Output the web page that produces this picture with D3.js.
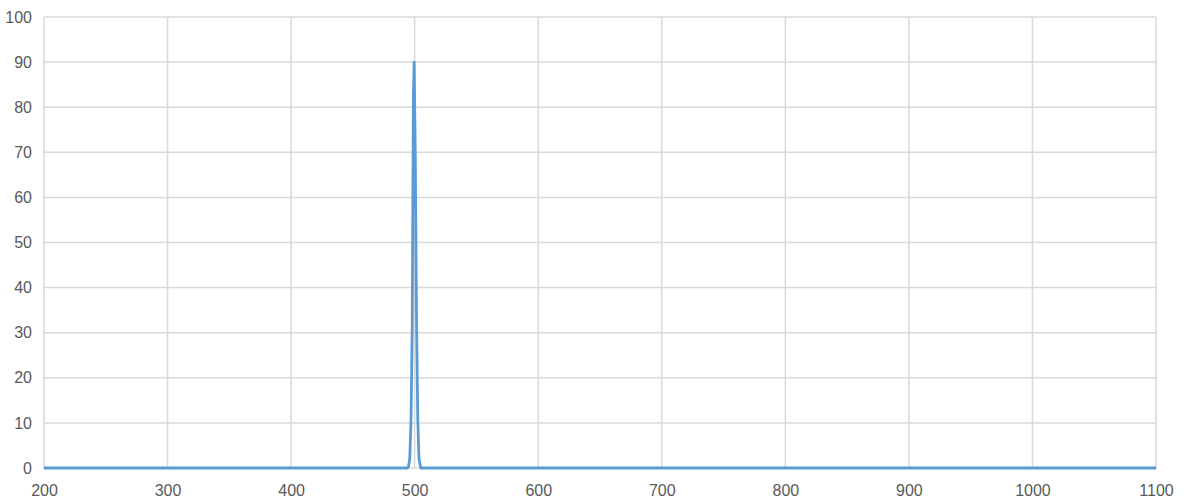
<!DOCTYPE html>
<html>
<head>
<meta charset="utf-8">
<script src="https://cdn.jsdelivr.net/npm/d3@7"></script>
<style>
  body { margin: 0; background: #fff; }
  text { font-family: "Liberation Sans", Arial, sans-serif; }
</style>
</head>
<body>
<svg id="chart" width="1184" height="503"></svg>
<script>
// wavelength (nm) and transmission (%)
var wavelength = [200, 494, 495, 496, 497, 498, 498.5, 499, 499.6, 500.5, 501.5, 502.5, 503.5, 505, 1100];
var transmission = [0, 0, 0.3, 2, 10, 30, 58, 83, 90, 69, 33, 11, 2, 0, 0];

var xTicks = [200, 300, 400, 500, 600, 700, 800, 900, 1000, 1100];
var yTicks = [0, 10, 20, 30, 40, 50, 60, 70, 80, 90, 100];

var margin = {top: 17, right: 28, bottom: 35, left: 44},
    width = 1184 - margin.left - margin.right,
    height = 503 - margin.top - margin.bottom;

var svg = d3.select('#chart')
  .append('g')
  .attr('transform', 'translate(' + margin.left + ',' + margin.top + ')');

var x = d3.scaleLinear().domain([200, 1100]).range([0, width]);
var y = d3.scaleLinear().domain([0, 100]).range([height, 0]);

// grid lines
svg.selectAll('.hgrid')
  .data(yTicks).enter()
  .append('line')
  .attr('x1', 0).attr('x2', width)
  .attr('y1', d => y(d)).attr('y2', d => y(d))
  .attr('stroke', '#d9d9d9')
  .attr('stroke-width', 1.5);

svg.selectAll('.vgrid')
  .data(xTicks).enter()
  .append('line')
  .attr('x1', d => x(d)).attr('x2', d => x(d))
  .attr('y1', 0).attr('y2', height)
  .attr('stroke', '#d9d9d9')
  .attr('stroke-width', 1.5);

// axes (labels only)
var yAxis = svg.append('g')
  .call(d3.axisLeft(y).tickValues(yTicks).tickFormat(d3.format('d')).tickSize(0).tickPadding(12));
var xAxis = svg.append('g')
  .attr('transform', 'translate(0,' + height + ')')
  .call(d3.axisBottom(x).tickValues(xTicks).tickFormat(d3.format('d')).tickSize(0).tickPadding(17));

[xAxis, yAxis].forEach(function(a) {
  a.select('.domain').remove();
  a.selectAll('text')
    .style('font-size', '16px')
    .style('fill', '#595959');
});

// spectrum
var line = d3.line()
  .x(function(d, i) { return x(wavelength[i]); })
  .y(function(d) { return y(d); });

svg.append('path')
  .datum(transmission)
  .attr('d', line)
  .attr('fill', 'none')
  .attr('stroke', '#5b9bd5')
  .attr('stroke-width', 2.8)
  .attr('stroke-linejoin', 'round');
</script>
</body>
</html>
